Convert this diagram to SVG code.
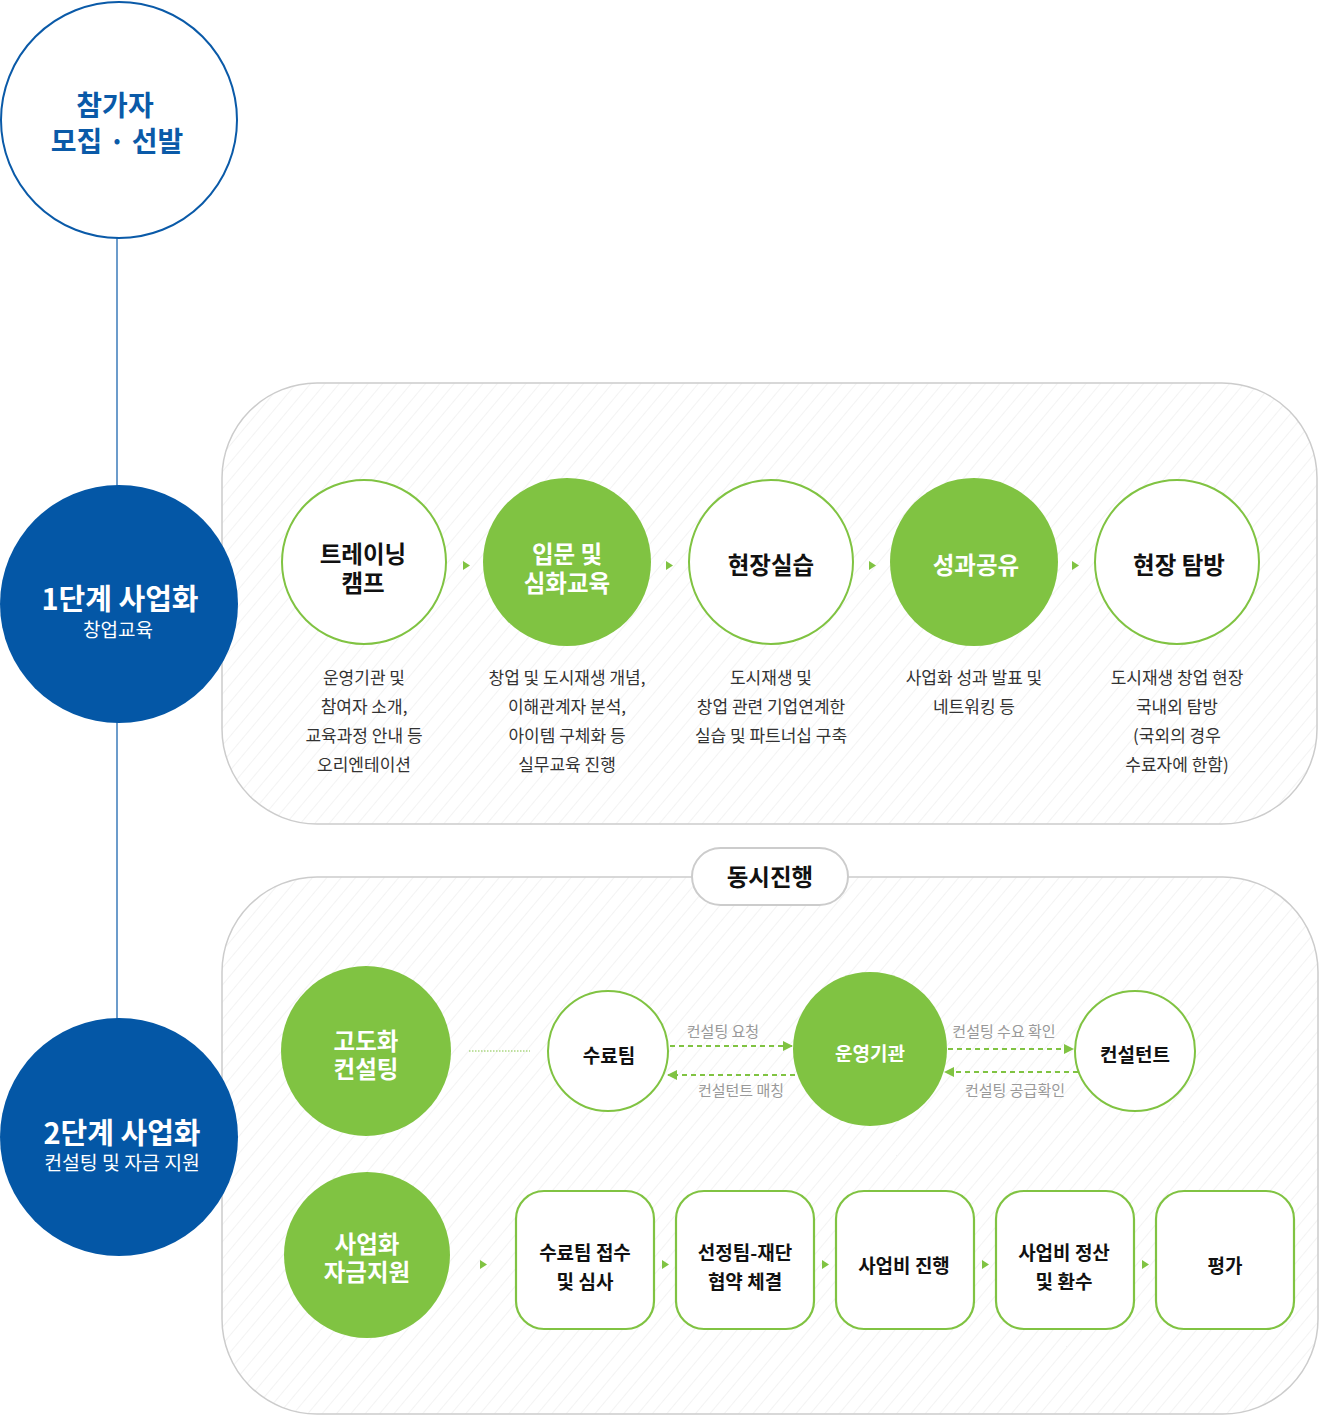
<svg xmlns="http://www.w3.org/2000/svg" width="1320" height="1416" viewBox="0 0 1320 1416">
<defs>
<pattern id="stripe" patternUnits="userSpaceOnUse" width="11" height="11" patternTransform="rotate(40)">
<rect width="11" height="11" fill="#ffffff"/>
<line x1="0" y1="0" x2="0" y2="11" stroke="#ebebeb" stroke-width="1.2"/>
</pattern>
<marker id="ah" viewBox="0 0 10 10" refX="9" refY="5" markerWidth="10" markerHeight="10" markerUnits="userSpaceOnUse" orient="auto">
<path d="M0,0 L10,5 L0,10 Z" fill="#80c342"/>
</marker>
</defs>
<style>
text{font-family:"Noto Sans CJK KR","Noto Sans",sans-serif;text-anchor:middle;dominant-baseline:central}
.b{font-weight:700}
.t{font-size:23.5px;font-weight:700;fill:#111}
.tw{font-size:23.5px;font-weight:700;fill:#fff}
.d{font-size:17px;fill:#333}
.s{font-size:19px;font-weight:700;fill:#111}
.sw{font-size:19px;font-weight:700;fill:#fff}
.l{font-size:15px;fill:#999}
.oc{fill:#fff;stroke:#80c342;stroke-width:2}
.fc{fill:#80c342}
.bx{fill:#fff;stroke:#80c342;stroke-width:2.2}
.tri{fill:#80c342}
.panel{fill:url(#stripe);stroke:#cccccc;stroke-width:1.5}
.dash{stroke:#80c342;stroke-width:2;stroke-dasharray:5,4;fill:none}
</style>

<g id="connectors">
<line x1="117" y1="238" x2="117" y2="1020" stroke="#0a5aa8" stroke-width="1.2"/>
</g>

<g id="panel1"><rect class="panel" x="222" y="383" width="1095" height="441" rx="95" ry="95"/></g>
<g id="panel2"><rect class="panel" x="222" y="877" width="1096" height="537" rx="95" ry="95"/></g>

<g id="recruit">
<circle cx="119" cy="120" r="118" fill="#fff" stroke="#0a5aa8" stroke-width="2"/>
<text x="115" y="104" class="b" font-size="28" fill="#0a5aa8">참가자</text>
<text x="117" y="140" class="b" font-size="28" fill="#0a5aa8">모집 · 선발</text>
</g>

<g id="stage1">
<circle cx="119" cy="604" r="119" fill="#0457a6"/>
<text x="120" y="597" class="b" font-size="29" fill="#fff">1단계 사업화</text>
<text x="118" y="628" font-size="19" fill="#fff">창업교육</text>
</g>

<g id="stage2">
<circle cx="119" cy="1137" r="119" fill="#0457a6"/>
<text x="122" y="1131" class="b" font-size="29" fill="#fff">2단계 사업화</text>
<text x="122" y="1161" font-size="19.4" fill="#fff">컨설팅 및 자금 지원</text>
</g>

<g id="n-training">
<circle class="oc" cx="364" cy="562" r="82"/>
<text class="t" x="363" y="553">트레이닝</text>
<text class="t" x="363" y="582">캠프</text>
<text class="d" x="364" y="676">운영기관 및</text>
<text class="d" x="364" y="705">참여자 소개,</text>
<text class="d" x="364" y="734">교육과정 안내 등</text>
<text class="d" x="364" y="763">오리엔테이션</text>
</g>
<g id="n-intro">
<circle class="fc" cx="567" cy="562" r="84"/>
<text class="tw" x="567" y="553">입문 및</text>
<text class="tw" x="567" y="582">심화교육</text>
<text class="d" x="567" y="676">창업 및 도시재생 개념,</text>
<text class="d" x="567" y="705">이해관계자 분석,</text>
<text class="d" x="567" y="734">아이템 구체화 등</text>
<text class="d" x="567" y="763">실무교육 진행</text>
</g>
<g id="n-practice">
<circle class="oc" cx="771" cy="562" r="82"/>
<text class="t" x="771" y="564">현장실습</text>
<text class="d" x="771" y="676">도시재생 및</text>
<text class="d" x="771" y="705">창업 관련 기업연계한</text>
<text class="d" x="771" y="734">실습 및 파트너십 구축</text>
</g>
<g id="n-share">
<circle class="fc" cx="974" cy="562" r="84"/>
<text class="tw" x="976" y="564">성과공유</text>
<text class="d" x="974" y="676">사업화 성과 발표 및</text>
<text class="d" x="974" y="705">네트워킹 등</text>
</g>
<g id="n-visit">
<circle class="oc" cx="1177" cy="562" r="82"/>
<text class="t" x="1179" y="564">현장 탐방</text>
<text class="d" x="1177" y="676">도시재생 창업 현장</text>
<text class="d" x="1177" y="705">국내외 탐방</text>
<text class="d" x="1177" y="734">(국외의 경우</text>
<text class="d" x="1177" y="763">수료자에 한함)</text>
</g>

<g id="concurrent">
<rect x="692" y="848" width="156" height="57" rx="28.5" fill="#fff" stroke="#cccccc" stroke-width="2"/>
<text x="770" y="876" class="b" font-size="23.5" fill="#111">동시진행</text>
</g>

<g id="n-consult">
<circle class="fc" cx="366" cy="1051" r="85"/>
<text class="tw" x="366" y="1040">고도화</text>
<text class="tw" x="366" y="1068">컨설팅</text>
</g>
<g id="n-team">
<circle class="oc" cx="608" cy="1051" r="60"/>
<text class="s" x="609" y="1054">수료팀</text>
</g>
<g id="n-org">
<circle class="fc" cx="870" cy="1049" r="77"/>
<text class="sw" x="870" y="1052">운영기관</text>
</g>
<g id="n-consultant">
<circle class="oc" cx="1135" cy="1051" r="60"/>
<text class="s" x="1135" y="1053">컨설턴트</text>
</g>

<g id="n-fund">
<circle class="fc" cx="367" cy="1255" r="83"/>
<text class="tw" x="367" y="1243">사업화</text>
<text class="tw" x="367" y="1271">자금지원</text>
</g>
<g id="b1"><rect class="bx" x="516" y="1191" width="138" height="138" rx="28"/>
<text class="s" x="585" y="1251">수료팀 접수</text><text class="s" x="585" y="1280">및 심사</text></g>
<g id="b2"><rect class="bx" x="676" y="1191" width="138" height="138" rx="28"/>
<text class="s" x="745" y="1251">선정팀-재단</text><text class="s" x="745" y="1280">협약 체결</text></g>
<g id="b3"><rect class="bx" x="836" y="1191" width="138" height="138" rx="28"/>
<text class="s" x="904" y="1264">사업비 진행</text></g>
<g id="b4"><rect class="bx" x="996" y="1191" width="138" height="138" rx="28"/>
<text class="s" x="1064" y="1251">사업비 정산</text><text class="s" x="1064" y="1280">및 환수</text></g>
<g id="b5"><rect class="bx" x="1156" y="1191" width="138" height="138" rx="28"/>
<text class="s" x="1225" y="1264">평가</text></g>

<g id="flow">
<path class="tri" d="M463,561 L470,565.5 L463,570 Z"/>
<path class="tri" d="M666,561 L673,565.5 L666,570 Z"/>
<path class="tri" d="M869,561 L876,565.5 L869,570 Z"/>
<path class="tri" d="M1072,561 L1079,565.5 L1072,570 Z"/>
<path class="tri" d="M480,1260 L487,1264.5 L480,1269 Z"/>
<path class="tri" d="M662,1260 L669,1264.5 L662,1269 Z"/>
<path class="tri" d="M822,1260 L829,1264.5 L822,1269 Z"/>
<path class="tri" d="M982,1260 L989,1264.5 L982,1269 Z"/>
<path class="tri" d="M1142,1260 L1149,1264.5 L1142,1269 Z"/>
<line x1="469" y1="1051" x2="530" y2="1051" stroke="#80c342" stroke-width="1" stroke-dasharray="1.5,1.5"/>
<line class="dash" x1="670" y1="1046" x2="792" y2="1046" marker-end="url(#ah)"/>
<line class="dash" x1="795" y1="1075" x2="668" y2="1075" marker-end="url(#ah)"/>
<line class="dash" x1="948" y1="1049" x2="1073" y2="1049" marker-end="url(#ah)"/>
<line class="dash" x1="1078" y1="1072" x2="945" y2="1072" marker-end="url(#ah)"/>
<text class="l" x="723" y="1030">컨설팅 요청</text>
<text class="l" x="741" y="1089">컨설턴트 매칭</text>
<text class="l" x="1004" y="1030">컨설팅 수요 확인</text>
<text class="l" x="1015" y="1089">컨설팅 공급확인</text>
</g>
</svg>
